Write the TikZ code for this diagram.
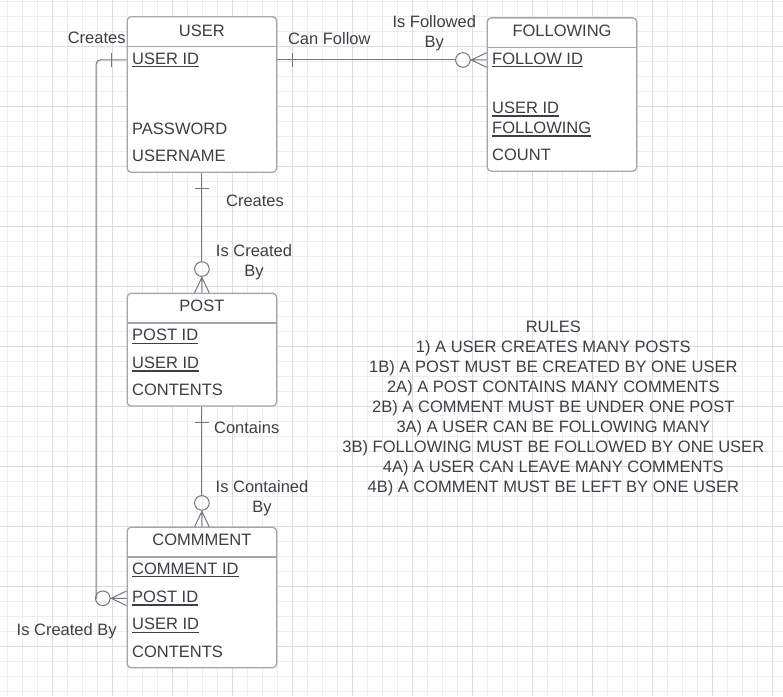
\documentclass[tikz,border=0pt]{standalone}
\usepackage{fontspec}
\setmainfont{Liberation Sans}
\usepackage{tikz}
\usetikzlibrary{positioning,decorations.markings}

\definecolor{ink}{HTML}{3B3F45}
\definecolor{boxline}{HTML}{A3A6AB}
\definecolor{wire}{HTML}{73777D}
\definecolor{gridminor}{HTML}{EDEDED}
\definecolor{gridmajor}{HTML}{DCDCDC}
\newcommand{\keyattr}[1]{\sbox0{#1}\rlap{\rule[-2.9pt]{\wd0}{1.3pt}}\usebox0}

\begin{document}
\begin{tikzpicture}[x=1pt,y=-1pt,node distance=2cm,on grid,
    every node/.style={font=\fontsize{16.5}{20}\selectfont,text=ink,inner sep=0pt},
    entity/.style={draw=boxline,line width=1.3pt,rounded corners=4pt,fill=white,minimum width=149.5pt},
    title/.style={anchor=base},
    attr/.style={anchor=base west},
    role/.style={anchor=north,align=center},
    rel/.style={draw=wire,line width=1pt},
    one/.style={postaction={decorate,decoration={markings,
        mark=at position 15.3pt with {\draw[wire,line width=1pt,shorten >=0pt] (0,-7.3) -- (0,7.3);}}}},
    many/.style={shorten >=31pt,postaction={decorate,decoration={markings,
        mark=at position 1 with {\draw[wire,line width=1pt,shorten >=0pt]
            (-23.7,0) circle (7.3pt)
            (-16.4,0) -- (0,0) (-15.3,0) -- (0,-7.3) (-15.3,0) -- (0,7.3);}}}}]
  \useasboundingbox (0,0) rectangle (783,696);
  % grid
  \foreach \gx in {7,22,...,782} \draw[gridminor,line width=1pt] (\gx,0) -- (\gx,696);
  \foreach \gy in {1,16,...,691} \draw[gridminor,line width=1pt] (0,\gy) -- (783,\gy);
  \foreach \gx in {52,112,...,772} \draw[gridmajor,line width=1pt] (\gx,0) -- (\gx,696);
  \foreach \gy in {46,106,...,646} \draw[gridmajor,line width=1pt] (0,\gy) -- (783,\gy);

  % entities
  \node[entity,minimum height=155.6pt] (user) at (201.9,94.5) {};
  \node[entity,minimum height=153.3pt] (following) [right=360.1pt of user] {};
  \node[entity,minimum height=112.7pt] (post) [below=255.2pt of user] {};
  \node[entity,minimum height=140.4pt] (comment) [below=247.8pt of post] {};
  \foreach \e in {user,following,post,comment}
    \draw[boxline,line width=1.3pt] ([yshift=-30.3pt]\e.north west) -- ([yshift=-30.3pt]\e.north east);

  \node[title] (user_t) at (user.north |- 0,36) {USER};
  \node[attr] (u_uid) at (132,64.3) {\keyattr{USER ID}};
  \node[attr] (u_pw) at (132,134) {PASSWORD};
  \node[attr] (u_name) at (132,161.6) {USERNAME};

  \node[title] (following_t) at (following.north |- 0,36) {FOLLOWING};
  \node[attr] (f_fid) at (492,64.3) {\keyattr{FOLLOW ID}};
  \node[attr] (f_uid) at (492,113.6) {\keyattr{USER ID}};
  \node[attr] (f_fol) at (492,133.6) {\keyattr{FOLLOWING}};
  \node[attr] (f_count) at (492,160.2) {COUNT};

  \node[title] (post_t) at (post.north |- 0,311.6) {POST};
  \node[attr] (p_pid) at (132,340.9) {\keyattr{POST ID}};
  \node[attr] (p_uid) at (132,368.6) {\keyattr{USER ID}};
  \node[attr] (p_text) at (132,395.2) {CONTENTS};

  \node[title] (comment_t) at (comment.north |- 0,545.2) {COMMMENT};
  \node[attr] (c_cid) at (132,574.2) {\keyattr{COMMENT ID}};
  \node[attr] (c_pid) at (132,602.6) {\keyattr{POST ID}};
  \node[attr] (c_uid) at (132,629.9) {\keyattr{USER ID}};
  \node[attr] (c_text) at (132,657.6) {CONTENTS};

  % relationships
  \draw[rel,one,many] (user.east |- u_uid) -- (following.west |- f_fid);
  \draw[rel,one,many] (user.south) -- (post.north);
  \draw[rel,one,many] (post.south) -- (comment.north);
  \draw[rel,one,many] (user.west |- u_uid) [rounded corners=4pt] -- ++(-30.3,0) [sharp corners] |- (comment.west |- c_pid);

  \node[title] (r_creates1) at (96.7,43.6) {Creates};
  \node[title] (r_follow) at (329.3,44.9) {Can Follow};
  \node[role] (r_followed) at (434.3,15) {Is Followed\\By};
  \node[title] (r_creates2) at (255,206.6) {Creates};
  \node[role] (r_created) at (254,244) {Is Created\\By};
  \node[title] (r_contains) at (246.7,433.6) {Contains};
  \node[role] (r_contained) at (262,480.7) {Is Contained\\By};
  \node[title] (r_createdby) at (66.7,635.9) {Is Created By};

  % rules
  \foreach \ruletext [count=\i from 0] in {RULES,
      1) A USER CREATES MANY POSTS,
      1B) A POST MUST BE CREATED BY ONE USER,
      2A) A POST CONTAINS MANY COMMENTS,
      2B) A COMMENT MUST BE UNDER ONE POST,
      3A) A USER CAN BE FOLLOWING MANY,
      3B) FOLLOWING MUST BE FOLLOWED BY ONE USER,
      4A) A USER CAN LEAVE MANY COMMENTS,
      4B) A COMMENT MUST BE LEFT BY ONE USER}
    \node[title] (rule_\i) at (553.3,332+20*\i) {\ruletext};
\end{tikzpicture}
\end{document}
